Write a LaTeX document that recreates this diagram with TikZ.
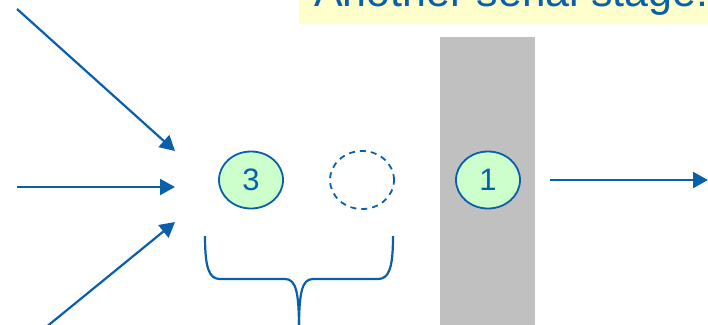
\documentclass[tikz,border=0pt]{standalone}
\usepackage{fontspec}
\setmainfont{Liberation Sans}
\usetikzlibrary{arrows.meta,shapes.geometric}
\definecolor{blu}{HTML}{0A5FAA}
\definecolor{grn}{HTML}{CCFFCC}
\definecolor{gry}{HTML}{C0C0C0}
\definecolor{ylw}{HTML}{FFFFCC}
\tikzset{
  conn/.style={draw=blu,line width=2.2pt,-{Triangle[length=15pt,width=16pt]}},
  stagenode/.style={ellipse,draw=blu,line width=1.8pt,fill=grn,minimum width=64pt,minimum height=57pt,inner sep=0pt,text=blu,font=\fontsize{31pt}{31pt}\selectfont},
  emptynode/.style={ellipse,draw=blu,line width=1.8pt,dash pattern=on 6pt off 5pt,minimum width=64pt,minimum height=58pt,inner sep=0pt},
}
\begin{document}
\begin{tikzpicture}[x=1pt,y=-1pt]
\useasboundingbox (0,0) rectangle (708,324);
\clip (0,0) rectangle (708,324);
% title box
\fill[ylw] (299,-10) rectangle (720,24);
\node[anchor=base west,inner sep=0pt,text=blu,font=\fontsize{43pt}{43pt}\selectfont] (title) at (314,6.5) {Another serial stage:};
% grey column
\fill[gry] (440,37) rectangle (535,330);
% nodes
\node[stagenode] (n3) at (251,180) {3};
\node[emptynode] (ne) at (362,180) {};
\node[stagenode] (n1) at (488,180) {1};
% input arrows
\coordinate (a1s) at (17,9);
\coordinate (a1e) at (175,151);
\coordinate (a2s) at (17,187);
\coordinate (a2e) at (175,187);
\coordinate (a3s) at (45,328);
\coordinate (a3e) at (175,222);
\draw[conn] (a1s) -- (a1e);
\draw[conn] (a2s) -- (a2e);
\draw[conn] (a3s) -- (a3e);
% output arrow
\coordinate (os) at (550,180);
\coordinate (oe) at (708,180);
\draw[conn] (os) -- (oe);
% brace
\coordinate (bl) at (205,236);
\coordinate (br) at (393,236);
\coordinate (bt) at (299,330);
\draw[blu,line width=2.2pt]
  (bl) .. controls (205,268) and (209,279) .. (220,279) -- (285,279)
  .. controls (296,279) and (299,292) .. (bt);
\draw[blu,line width=2.2pt]
  (br) .. controls (393,268) and (389,279) .. (378,279) -- (313,279)
  .. controls (302,279) and (299,292) .. (bt);
\end{tikzpicture}
\end{document}
